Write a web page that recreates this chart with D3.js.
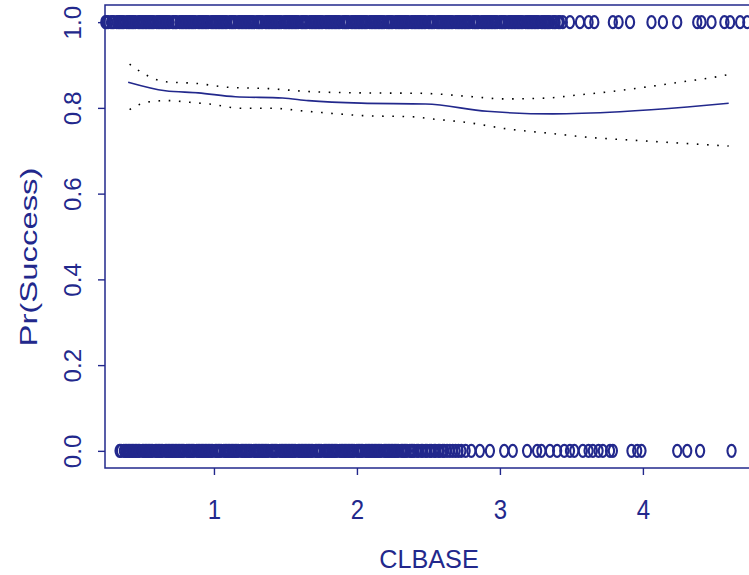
<!DOCTYPE html>
<html>
<head>
<meta charset="utf-8">
<script src="https://cdn.jsdelivr.net/npm/d3@7"></script>
<style>
  body { margin: 0; background: #fff; }
  text { font-family: "Liberation Sans", Arial, sans-serif; fill: #22288c; }
</style>
</head>
<body>
<div id="chart"></div>
<script>
// CLBASE values of successes (y = 1)
const successX = [
  0.24, 0.25, 0.26, 0.28, 0.29, 0.30, 0.32, 0.33,
  0.34, 0.35, 0.36, 0.37, 0.39, 0.40, 0.41, 0.42, 0.43,
  0.44, 0.45, 0.47, 0.48, 0.49, 0.50, 0.51, 0.52, 0.53,
  0.54, 0.55, 0.56, 0.57, 0.58, 0.60, 0.61, 0.62, 0.63,
  0.64, 0.65, 0.66, 0.67, 0.68, 0.69, 0.71, 0.72, 0.73,
  0.74, 0.76, 0.77, 0.78, 0.79, 0.80, 0.81, 0.82, 0.83,
  0.84, 0.85, 0.86, 0.87, 0.89, 0.90, 0.91, 0.92, 0.93,
  0.94, 0.95, 0.96, 0.98, 0.99, 1.00, 1.01, 1.02, 1.03,
  1.04, 1.05, 1.06, 1.07, 1.08, 1.09, 1.11, 1.12, 1.13,
  1.14, 1.15, 1.17, 1.18, 1.19, 1.20, 1.21, 1.22, 1.23,
  1.24, 1.25, 1.26, 1.27, 1.28, 1.30, 1.31, 1.32, 1.33,
  1.34, 1.36, 1.37, 1.38, 1.39, 1.40, 1.41, 1.42, 1.43,
  1.44, 1.45, 1.46, 1.47, 1.49, 1.50, 1.51, 1.52, 1.53,
  1.54, 1.55, 1.56, 1.57, 1.58, 1.59, 1.61, 1.62, 1.63,
  1.64, 1.65, 1.67, 1.68, 1.69, 1.70, 1.71, 1.72, 1.73,
  1.74, 1.75, 1.76, 1.78, 1.79, 1.80, 1.81, 1.82, 1.83,
  1.84, 1.85, 1.86, 1.87, 1.88, 1.90, 1.91, 1.92, 1.93,
  1.94, 1.96, 1.97, 1.98, 1.99, 2.00, 2.01, 2.02, 2.03,
  2.04, 2.05, 2.06, 2.07, 2.09, 2.10, 2.11, 2.12, 2.13,
  2.14, 2.15, 2.16, 2.17, 2.18, 2.19, 2.21, 2.22, 2.23,
  2.24, 2.25, 2.27, 2.28, 2.29, 2.30, 2.31, 2.32, 2.33,
  2.34, 2.35, 2.36, 2.38, 2.39, 2.40, 2.41, 2.42, 2.43,
  2.44, 2.45, 2.46, 2.47, 2.48, 2.50, 2.51, 2.52, 2.53,
  2.54, 2.56, 2.57, 2.58, 2.59, 2.60, 2.61, 2.62, 2.63,
  2.64, 2.65, 2.66, 2.67, 2.69, 2.70, 2.71, 2.72, 2.73,
  2.74, 2.75, 2.76, 2.77, 2.78, 2.79, 2.81, 2.82, 2.83,
  2.84, 2.85, 2.87, 2.88, 2.89, 2.90, 2.91, 2.92, 2.93,
  2.94, 2.95, 2.96, 2.97, 2.98, 3.00, 3.01, 3.02, 3.03,
  3.04, 3.06, 3.07, 3.08, 3.09, 3.10, 3.11, 3.12, 3.13,
  3.14, 3.15, 3.16, 3.18, 3.19, 3.20, 3.21, 3.22, 3.23,
  3.24, 3.25, 3.26, 3.27, 3.29, 3.30, 3.31, 3.32, 3.33,
  3.34, 3.35, 3.37, 3.38, 3.39, 3.41, 3.42,
  3.44, 3.49, 3.56, 3.62, 3.66, 3.79, 3.83, 3.91, 4.06, 4.14, 4.24, 4.38, 4.41, 4.48, 4.57, 4.61,
  4.68, 4.73
];
// CLBASE values of failures (y = 0)
const failureX = [
  0.34, 0.35, 0.37, 0.38, 0.39, 0.40, 0.41, 0.42, 0.43,
  0.44, 0.45, 0.46, 0.47, 0.48, 0.50, 0.51, 0.52, 0.53,
  0.54, 0.55, 0.56, 0.57, 0.59, 0.60, 0.61, 0.62, 0.63,
  0.64, 0.66, 0.67, 0.68, 0.69, 0.70, 0.71, 0.72, 0.73,
  0.74, 0.75, 0.76, 0.77, 0.78, 0.79, 0.81, 0.82, 0.83,
  0.84, 0.85, 0.86, 0.88, 0.89, 0.90, 0.91, 0.92, 0.93,
  0.94, 0.95, 0.96, 0.97, 0.98, 0.99, 1.01, 1.02, 1.03,
  1.04, 1.05, 1.07, 1.08, 1.09, 1.10, 1.11, 1.12, 1.13,
  1.14, 1.15, 1.16, 1.17, 1.19, 1.20, 1.21, 1.22, 1.23,
  1.24, 1.25, 1.26, 1.28, 1.29, 1.30, 1.31, 1.32, 1.33,
  1.34, 1.35, 1.36, 1.37, 1.38, 1.40, 1.41, 1.42, 1.43,
  1.44, 1.46, 1.47, 1.48, 1.49, 1.50, 1.51, 1.52, 1.53,
  1.54, 1.55, 1.56, 1.57, 1.59, 1.60, 1.61, 1.62, 1.63,
  1.64, 1.65, 1.66, 1.67, 1.68, 1.69, 1.71, 1.72, 1.73,
  1.74, 1.75, 1.77, 1.78, 1.79, 1.80, 1.81, 1.82, 1.83,
  1.84, 1.85, 1.86, 1.88, 1.89, 1.90, 1.91, 1.92, 1.93,
  1.94, 1.95, 1.96, 1.97, 1.98, 2.00, 2.01, 2.02, 2.03,
  2.04, 2.06, 2.07, 2.08, 2.09, 2.10, 2.11, 2.12, 2.13,
  2.14, 2.15, 2.16, 2.17, 2.19, 2.20, 2.21, 2.22, 2.23,
  2.24, 2.25, 2.26, 2.27, 2.28, 2.29, 2.31, 2.32, 2.33,
  2.34, 2.35, 2.37, 2.38, 2.39, 2.40, 2.42, 2.43,
  2.45, 2.46, 2.48, 2.49, 2.51, 2.52, 2.54, 2.55, 2.57,
  2.58, 2.60, 2.61, 2.63, 2.65, 2.67, 2.69, 2.71, 2.73, 2.76,
  2.80, 2.86, 2.93, 3.03, 3.09, 3.19, 3.26, 3.29, 3.35, 3.40, 3.45, 3.49, 3.52, 3.58, 3.62, 3.65,
  3.69, 3.72, 3.77, 3.79, 3.92, 3.96, 3.99, 4.24, 4.31, 4.40, 4.62
];

// smoothed fit and its pointwise band
const fitX = [0.40, 0.66, 0.89, 1.15, 1.48, 1.66, 2.03, 2.48, 2.91, 3.37, 3.84, 4.31, 4.60];
const fitY = [0.860, 0.840, 0.835, 0.826, 0.823, 0.817, 0.811, 0.809, 0.792, 0.786, 0.791, 0.802, 0.811];
const upperX = [0.41, 0.53, 0.66, 0.88, 1.10, 1.38, 1.67, 2.03, 2.45, 2.81, 3.02, 3.33, 3.54, 3.75, 4.03, 4.26, 4.54, 4.60];
const upperY = [0.902, 0.876, 0.861, 0.857, 0.848, 0.845, 0.838, 0.835, 0.834, 0.826, 0.821, 0.823, 0.830, 0.837, 0.849, 0.860, 0.874, 0.878];
const lowerX = [0.41, 0.54, 0.68, 0.83, 0.97, 1.19, 1.41, 1.62, 1.83, 2.04, 2.41, 2.48, 2.77, 3.05, 3.34, 3.63, 3.91, 4.20, 4.55, 4.60];
const lowerY = [0.796, 0.814, 0.817, 0.813, 0.809, 0.799, 0.799, 0.793, 0.787, 0.782, 0.779, 0.776, 0.766, 0.751, 0.741, 0.731, 0.725, 0.719, 0.712, 0.711];

const xTicks = [1, 2, 3, 4];
const yTicks = [0, 0.2, 0.4, 0.6, 0.8, 1.0];

const width = 749, height = 575;
const box = { left: 105, right: 753, top: 5, bottom: 468 };
const ink = "#22288c";

const x = d3.scaleLinear().domain([0.238, 4.77]).range([box.left, box.right]);
const y = d3.scaleLinear().domain([-0.04, 1.04]).range([box.bottom, box.top]);

const svg = d3.select("#chart")
  .append("svg")
    .attr("width", width)
    .attr("height", height);

// points (the original is stretched vertically, so the "circles" are ovals)
const pts = successX.map(v => ({ x: v, y: 1 }))
  .concat(failureX.map(v => ({ x: v, y: 0 })));

svg.append("g")
  .selectAll("ellipse")
  .data(pts)
  .enter()
  .append("ellipse")
    .attr("cx", d => x(d.x))
    .attr("cy", d => y(d.y))
    .attr("rx", 4.1)
    .attr("ry", 6)
    .attr("fill", "none")
    .attr("stroke", ink)
    .attr("stroke-width", 2.1);

// curves
const line = d3.line()
  .x(d => x(d[0]))
  .y(d => y(d[1]))
  .curve(d3.curveMonotoneX);

svg.append("path")
  .attr("d", line(d3.zip(fitX, fitY)))
  .attr("fill", "none")
  .attr("stroke", ink)
  .attr("stroke-width", 1.6);

[[upperX, upperY], [lowerX, lowerY]].forEach(([xs, ys]) => {
  svg.append("path")
    .attr("d", line(d3.zip(xs, ys)))
    .attr("fill", "none")
    .attr("stroke", "#000")
    .attr("stroke-width", 1.6)
    .attr("stroke-dasharray", "1.6,8.6");
});

// box
svg.append("rect")
  .attr("x", box.left)
  .attr("y", box.top)
  .attr("width", box.right - box.left)
  .attr("height", box.bottom - box.top)
  .attr("fill", "none")
  .attr("stroke", ink)
  .attr("stroke-width", 1.5);

// x axis
const xAxis = svg.append("g")
  .attr("transform", "translate(0," + box.bottom + ")")
  .call(d3.axisBottom(x).tickValues(xTicks).tickSize(7).tickFormat(d3.format("d")));
xAxis.select(".domain").remove();
xAxis.selectAll("line").attr("stroke", ink).attr("stroke-width", 1.4);
xAxis.selectAll("text")
  .attr("font-size", 24)
  .attr("fill", ink)
  .attr("y", null).attr("dy", null)
  .attr("transform", "translate(0,51) scale(1,1.12)");

// y axis
const yAxis = svg.append("g")
  .attr("transform", "translate(" + box.left + ",0)")
  .call(d3.axisLeft(y).tickValues(yTicks).tickSize(7).tickFormat(d3.format(".1f")));
yAxis.select(".domain").remove();
yAxis.selectAll("line").attr("stroke", ink).attr("stroke-width", 1.4);
yAxis.selectAll("text")
  .attr("font-size", 23)
  .attr("fill", ink)
  .attr("x", null).attr("dy", null)
  .attr("text-anchor", "middle")
  .attr("transform", "translate(-24,0) rotate(-90) scale(1.05,1)");

// labels
svg.append("text")
  .attr("transform", "translate(" + (box.left + box.right) / 2 + ",568) scale(1.05,1.1)")
  .attr("text-anchor", "middle")
  .attr("font-size", 24)
  .text("CLBASE");

svg.append("text")
  .attr("transform", "translate(37,257) rotate(-90) scale(1.43,1)")
  .attr("text-anchor", "middle")
  .attr("font-size", 23)
  .text("Pr(Success)");
</script>
</body>
</html>
